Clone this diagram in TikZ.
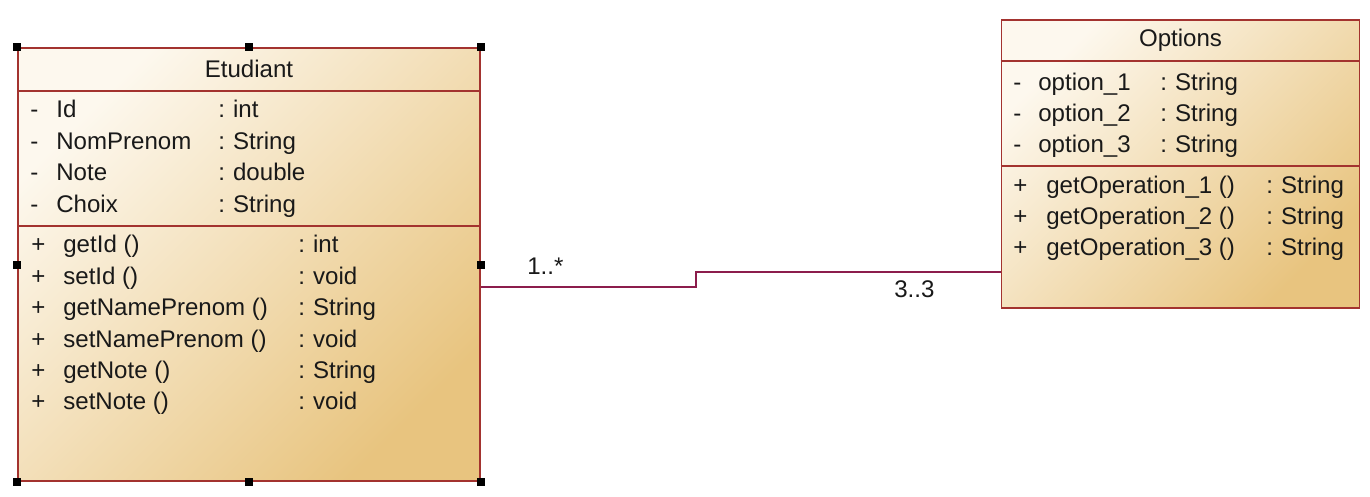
\documentclass[tikz,border=0pt]{standalone}
\usepackage{fontspec}
\setmainfont{Liberation Sans}
\usetikzlibrary{positioning, calc}
\definecolor{umlBorder}{HTML}{A3332F}
\definecolor{umlLight}{HTML}{FDF8EE}
\definecolor{umlDark}{HTML}{E8C47F}
\definecolor{umlLink}{HTML}{8C1D4C}
\newcommand{\ty}[1]{:\hspace{4.6pt}#1}

\begin{document}
\begin{tikzpicture}[x=0.02cm, y=-0.02cm,
    every node/.style={font=\fontsize{13.7}{16}\selectfont, text=black!90,
        inner sep=0pt, anchor=base west},
    classbox/.style={
        rectangle, draw=umlBorder, line width=1pt, anchor=center,
        top color=umlLight, bottom color=umlDark, shading angle=45,
    },
    sepline/.style={draw=umlBorder, line width=1pt},
    classtitle/.style={anchor=base},
    handle/.style={fill=black},
    assoc/.style={draw=umlLink, line width=0.9pt},
]

\useasboundingbox (0,0) rectangle (1370,497);

% ── Class: Etudiant ───────────────────────────────────────────────────
\node[classbox, minimum width=9.24cm, minimum height=8.66cm] (etud) at (249,264.5) {};
\draw[sepline] (etud.west |- 0,91)  -- (etud.east |- 0,91);
\draw[sepline] (etud.west |- 0,226) -- (etud.east |- 0,226);
\node[classtitle] (etudT) at (249,77) {Etudiant};

\def\eS{30}
\def\eN{56}
\def\eC{218}
\node (eS1) at (\eS,117) {-};  \node (eN1) at (\eN,117) {Id};        \node (eT1) at (\eC,117) {\ty{int}};
\node (eS2) at (\eS,149) {-};  \node (eN2) at (\eN,149) {NomPrenom}; \node (eT2) at (\eC,149) {\ty{String}};
\node (eS3) at (\eS,180) {-};  \node (eN3) at (\eN,180) {Note};      \node (eT3) at (\eC,180) {\ty{double}};
\node (eS4) at (\eS,212) {-};  \node (eN4) at (\eN,212) {Choix};     \node (eT4) at (\eC,212) {\ty{String}};

\def\mS{31}
\def\mN{63}
\def\mC{298}
\node (mS1) at (\mS,252)   {+};  \node (mN1) at (\mN,252)   {getId ()};          \node (mT1) at (\mC,252)   {\ty{int}};
\node (mS2) at (\mS,284)   {+};  \node (mN2) at (\mN,284)   {setId ()};          \node (mT2) at (\mC,284)   {\ty{void}};
\node (mS3) at (\mS,315.5) {+};  \node (mN3) at (\mN,315.5) {getNamePrenom ()};  \node (mT3) at (\mC,315.5) {\ty{String}};
\node (mS4) at (\mS,347)   {+};  \node (mN4) at (\mN,347)   {setNamePrenom ()};  \node (mT4) at (\mC,347)   {\ty{void}};
\node (mS5) at (\mS,378)   {+};  \node (mN5) at (\mN,378)   {getNote ()};        \node (mT5) at (\mC,378)   {\ty{String}};
\node (mS6) at (\mS,409.5) {+};  \node (mN6) at (\mN,409.5) {setNote ()};        \node (mT6) at (\mC,409.5) {\ty{void}};

% selection handles
\foreach \a in {north west, north, north east, east, south east, south, south west, west}
    \fill[handle] (etud.\a) ++(-4,-4) rectangle ++(8,8);

% ── Class: Options ────────────────────────────────────────────────────
\node[classbox, minimum width=7.16cm, minimum height=5.76cm] (opt) at (1180.5,164) {};
\draw[sepline] (opt.west |- 0,61)  -- (opt.east |- 0,61);
\draw[sepline] (opt.west |- 0,166) -- (opt.east |- 0,166);
\node[classtitle] (optT) at (1180.5,47) {Options};

\def\oS{1013}
\def\oN{1038}
\def\oC{1160}
\node (oS1) at (\oS,90)  {-};  \node (oN1) at (\oN,90)  {option\_1};  \node (oT1) at (\oC,90)  {\ty{String}};
\node (oS2) at (\oS,121) {-};  \node (oN2) at (\oN,121) {option\_2};  \node (oT2) at (\oC,121) {\ty{String}};
\node (oS3) at (\oS,152) {-};  \node (oN3) at (\oN,152) {option\_3};  \node (oT3) at (\oC,152) {\ty{String}};

\def\pS{1013}
\def\pN{1046}
\def\pC{1266}
\node (pS1) at (\pS,193) {+};  \node (pN1) at (\pN,193) {getOperation\_1 ()};  \node (pT1) at (\pC,193) {\ty{String}};
\node (pS2) at (\pS,224) {+};  \node (pN2) at (\pN,224) {getOperation\_2 ()};  \node (pT2) at (\pC,224) {\ty{String}};
\node (pS3) at (\pS,255) {+};  \node (pN3) at (\pN,255) {getOperation\_3 ()};  \node (pT3) at (\pC,255) {\ty{String}};

% ── Association ───────────────────────────────────────────────────────
\draw[assoc] ([yshift=-0.45cm]etud.east) -- ++(215,0) |- ([yshift=-2.16cm]opt.west);
\node (mult1) at (527,274) {1..*};
\node (mult2) at (894,297) {3..3};

\end{tikzpicture}
\end{document}
